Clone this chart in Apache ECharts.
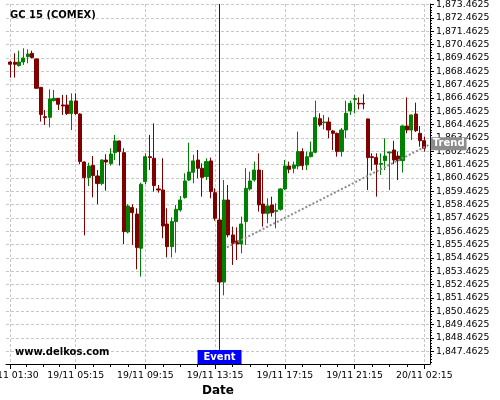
<!DOCTYPE html>
<html><head><meta charset="utf-8">
<script src="https://cdn.jsdelivr.net/npm/echarts@6/dist/echarts.min.js"></script>
<style>html,body{margin:0;padding:0;background:#fff}#c{width:500px;height:400px}</style>
</head><body><div id="c"></div>
<script>
const chartTitle = 'GC 15 (COMEX)';
const watermark = 'www.delkos.com';
const xTickIdx = [0, 15, 31, 47, 63, 79, 95];
const xTickLabels = ['19/11 01:30', '19/11 05:15', '19/11 09:15', '19/11 13:15', '19/11 17:15', '19/11 21:15', '20/11 02:15'];
const yTicks = [1847.4625, 1848.4625, 1849.4625, 1850.4625, 1851.4625, 1852.4625, 1853.4625, 1854.4625, 1855.4625,
  1856.4625, 1857.4625, 1858.4625, 1859.4625, 1860.4625, 1861.4625, 1862.4625, 1863.4625, 1864.4625, 1865.4625,
  1866.4625, 1867.4625, 1868.4625, 1869.4625, 1870.4625, 1871.4625, 1872.4625, 1873.4625];

const open = [1869.15, 1869.13, 1868.88, 1869.15, 1869.55, 1869.80, 1869.38, 1867.25, 1865.05, 1865.00,
  1866.25, 1866.43, 1865.93, 1865.93, 1865.28, 1866.23, 1865.25, 1861.65, 1860.48, 1861.40,
  1860.60, 1860.03, 1861.80, 1861.53, 1862.35, 1863.23, 1862.35, 1856.40, 1858.23, 1857.75,
  1855.18, 1860.18, 1862.05, 1861.93, 1859.63, 1859.55, 1857.00, 1855.30, 1857.18, 1858.05,
  1858.98, 1860.30, 1860.88, 1861.80, 1861.18, 1860.55, 1861.73, 1859.35, 1857.30, 1852.65,
  1858.80, 1856.18, 1855.73, 1855.50, 1857.18, 1859.63, 1860.30, 1861.05, 1858.50, 1857.80,
  1858.43, 1857.95, 1858.10, 1859.63, 1861.35, 1861.18, 1861.35, 1862.43, 1861.43, 1862.05,
  1862.38, 1864.90, 1864.60, 1864.65, 1863.98, 1863.80, 1862.43, 1864.05, 1865.48, 1866.33,
  1866.05, 1866.05, 1864.88, 1862.05, 1861.98, 1861.48, 1861.75, 1862.33, 1862.55, 1862.10,
  1861.75, 1864.35, 1864.05, 1865.25, 1863.80, 1863.25];
const close = [1868.98, 1868.98, 1869.15, 1869.45, 1869.75, 1869.48, 1867.18, 1865.22, 1864.98, 1866.38,
  1866.43, 1865.98, 1865.85, 1865.28, 1866.23, 1865.28, 1861.68, 1860.48, 1861.35, 1860.63,
  1860.03, 1861.80, 1861.65, 1862.25, 1863.23, 1862.43, 1856.43, 1858.35, 1857.85, 1855.23,
  1859.98, 1862.05, 1861.98, 1859.88, 1859.55, 1856.85, 1855.30, 1857.18, 1858.10, 1858.80,
  1860.23, 1860.90, 1861.73, 1861.18, 1860.50, 1861.68, 1859.43, 1857.43, 1852.65, 1858.80,
  1856.18, 1855.55, 1855.50, 1857.00, 1859.68, 1860.23, 1861.05, 1858.43, 1857.80, 1858.35,
  1857.85, 1858.02, 1859.63, 1861.35, 1861.10, 1861.43, 1862.43, 1861.38, 1862.05, 1862.38,
  1864.98, 1864.43, 1864.65, 1864.05, 1863.80, 1862.43, 1864.05, 1865.30, 1866.05, 1866.40,
  1866.00, 1866.00, 1861.98, 1861.98, 1861.48, 1861.55, 1862.10, 1862.40, 1861.80, 1861.75,
  1864.35, 1864.05, 1865.18, 1864.00, 1863.25, 1862.68];
const low = [1867.98, 1867.98, 1868.80, 1868.93, 1869.05, 1869.43, 1867.15, 1864.68, 1864.43, 1864.25,
  1866.20, 1865.55, 1865.18, 1865.18, 1864.05, 1865.18, 1861.48, 1856.15, 1859.85, 1859.00,
  1858.48, 1859.90, 1859.50, 1861.38, 1861.80, 1861.38, 1855.50, 1856.30, 1855.43, 1853.60,
  1853.05, 1860.00, 1861.05, 1859.43, 1859.35, 1855.93, 1854.50, 1854.50, 1854.85, 1857.93,
  1858.90, 1860.23, 1860.05, 1860.43, 1859.05, 1860.30, 1858.93, 1857.25, 1852.60, 1851.65,
  1856.00, 1853.93, 1854.30, 1854.80, 1855.43, 1859.50, 1860.18, 1857.93, 1856.80, 1857.05,
  1857.55, 1856.68, 1858.00, 1859.55, 1860.80, 1860.80, 1861.10, 1861.05, 1861.05, 1862.00,
  1862.30, 1864.30, 1864.10, 1863.43, 1862.55, 1862.05, 1862.05, 1863.43, 1865.18, 1865.30,
  1865.60, 1865.60, 1859.55, 1861.00, 1859.05, 1860.68, 1861.05, 1859.55, 1861.50, 1860.30,
  1860.85, 1863.80, 1863.30, 1863.90, 1862.80, 1862.43];
const high = [1869.20, 1869.80, 1870.00, 1870.18, 1870.10, 1870.00, 1869.40, 1867.25, 1865.55, 1867.10,
  1867.05, 1866.45, 1866.68, 1866.68, 1866.80, 1866.80, 1865.30, 1861.70, 1861.60, 1862.10,
  1861.05, 1861.85, 1862.23, 1862.68, 1863.68, 1863.25, 1862.68, 1858.48, 1858.48, 1858.18,
  1860.10, 1862.30, 1863.68, 1864.55, 1859.93, 1861.93, 1858.18, 1857.50, 1858.43, 1859.10,
  1860.80, 1863.10, 1862.20, 1862.55, 1861.55, 1861.93, 1861.98, 1859.68, 1857.35, 1860.30,
  1859.93, 1856.80, 1856.75, 1857.55, 1861.18, 1860.93, 1861.68, 1862.30, 1861.05, 1858.93,
  1859.05, 1858.55, 1859.68, 1861.80, 1861.68, 1861.68, 1863.93, 1862.68, 1862.43, 1863.18,
  1866.25, 1865.30, 1865.18, 1865.00, 1864.05, 1863.85, 1864.20, 1866.25, 1866.25, 1866.68,
  1866.50, 1866.73, 1864.90, 1862.30, 1862.30, 1862.30, 1863.43, 1862.43, 1863.25, 1862.43,
  1864.40, 1866.50, 1865.20, 1866.10, 1864.35, 1863.55];

const eventIdx = 48;
const eventLabel = 'Event';
const trendStart = [49.7, 1855.25];
const trendEnd = [96.29, 1862.98];
const trendLabel = 'Trend';

const X_MIN = -1, X_MAX = 96.3, Y_MIN = 1846.5, Y_MAX = 1873.5;
const FONT = 'DejaVu Sans';

const xMinor = [];
for (let k = 0; k < xTickIdx.length - 1; k++) {
  const a = xTickIdx[k], b = xTickIdx[k + 1];
  for (let j = 1; j < 4; j++) xMinor.push(a + (b - a) * j / 4);
}
const yMinor = [];
for (let k = -1; k < yTicks.length; k++) {
  const base = k < 0 ? yTicks[0] - 1 : yTicks[k];
  for (let j = 1; j < 5; j++) yMinor.push(+(base + 0.2 * j).toFixed(4));
}
function fmtY(v) {
  const s = v.toFixed(4).split('.');
  return s[0].replace(/\B(?=(\d{3})+(?!\d))/g, ',') + '.' + s[1];
}
function fmtX(v) {
  const k = xTickIdx.indexOf(Math.round(v));
  return k >= 0 ? xTickLabels[k] : '';
}

const candles = open.map((o, i) => [i, o, close[i], low[i], high[i]]);

const chart = echarts.init(document.getElementById('c'), null, {renderer: 'canvas'});
chart.setOption({
  animation: false,
  backgroundColor: '#ffffff',
  title: [
    {text: chartTitle, left: 10, top: 10, padding: 0,
     textStyle: {fontFamily: FONT, fontSize: 10, fontWeight: 'bold', color: '#000'}},
    {text: watermark, left: 15, top: 347, padding: 0,
     textStyle: {fontFamily: FONT, fontSize: 10, fontWeight: 'bold', color: '#000'}}
  ],
  grid: {left: 6, right: 70, top: 4, bottom: 36, containLabel: false, outerBoundsMode: 'none'},
  xAxis: [
    {type: 'value', min: X_MIN, max: X_MAX, position: 'bottom',
     name: 'Date', nameLocation: 'middle', nameGap: 18,
     nameTextStyle: {fontFamily: FONT, fontSize: 12, fontWeight: 'bold', color: '#000'},
     axisLine: {show: true, onZero: false, lineStyle: {color: '#000', width: 1}},
     axisTick: {show: true, length: 5, customValues: xTickIdx, lineStyle: {color: '#000'}},
     axisLabel: {show: true, customValues: xTickIdx, formatter: fmtX, margin: 7,
                 fontFamily: FONT, fontSize: 9.33, color: '#000'},
     splitLine: {show: true, lineStyle: {color: '#c8c8c8', type: [3, 2], width: 1}}},
    {type: 'value', min: X_MIN, max: X_MAX, position: 'bottom',
     axisLine: {show: false, onZero: false},
     axisTick: {show: true, length: 3, customValues: xMinor, lineStyle: {color: '#000'}},
     axisLabel: {show: false}, splitLine: {show: false}}
  ],
  yAxis: [
    {type: 'value', min: Y_MIN, max: Y_MAX, position: 'right',
     axisLine: {show: true, onZero: false, lineStyle: {color: '#000', width: 1}},
     axisTick: {show: true, length: 4, customValues: yTicks, lineStyle: {color: '#000'}},
     axisLabel: {show: true, customValues: yTicks, formatter: fmtY, margin: 6,
                 fontFamily: FONT, fontSize: 9.33, color: '#000'},
     splitLine: {show: true, lineStyle: {color: '#c8c8c8', type: [3, 2], width: 1}}},
    {type: 'value', min: Y_MIN, max: Y_MAX, position: 'right',
     axisLine: {show: false, onZero: false},
     axisTick: {show: true, length: 2, customValues: yMinor, lineStyle: {color: '#000'}},
     axisLabel: {show: false}, splitLine: {show: false}}
  ],
  series: [{
    type: 'candlestick',
    xAxisIndex: 0, yAxisIndex: 0,
    data: candles,
    barWidth: 3.6,
    clip: false,
    itemStyle: {color: '#008000', color0: '#800000', borderColor: '#008000', borderColor0: '#800000', borderWidth: 1},
    markLine: {
      silent: true, symbol: ['none', 'none'], animation: false,
      data: [
        {xAxis: eventIdx, lineStyle: {color: '#0000ff', width: 1, type: 'solid'}, label: {show: false}},
        [{coord: trendStart, lineStyle: {color: '#8c8c8c', width: 2, type: [2, 2]},
          label: {show: true, position: 'end', distance: 1, formatter: trendLabel,
                  backgroundColor: '#8c8c8c', color: '#fff', fontFamily: FONT, fontSize: 10,
                  fontWeight: 'bold', padding: [1, 2, 0, 2], lineHeight: 12}},
         {coord: trendEnd}]
      ]
    },
    markPoint: {
      silent: true, animation: false,
      data: [{coord: [eventIdx, Y_MIN], symbol: 'rect', symbolSize: [44, 14], symbolOffset: [0, -7],
              itemStyle: {color: '#0000ff'},
              label: {show: true, position: 'inside', formatter: eventLabel, color: '#fff',
                      fontFamily: FONT, fontSize: 10, fontWeight: 'bold'}}]
    }
  }]
});
</script></body></html>
